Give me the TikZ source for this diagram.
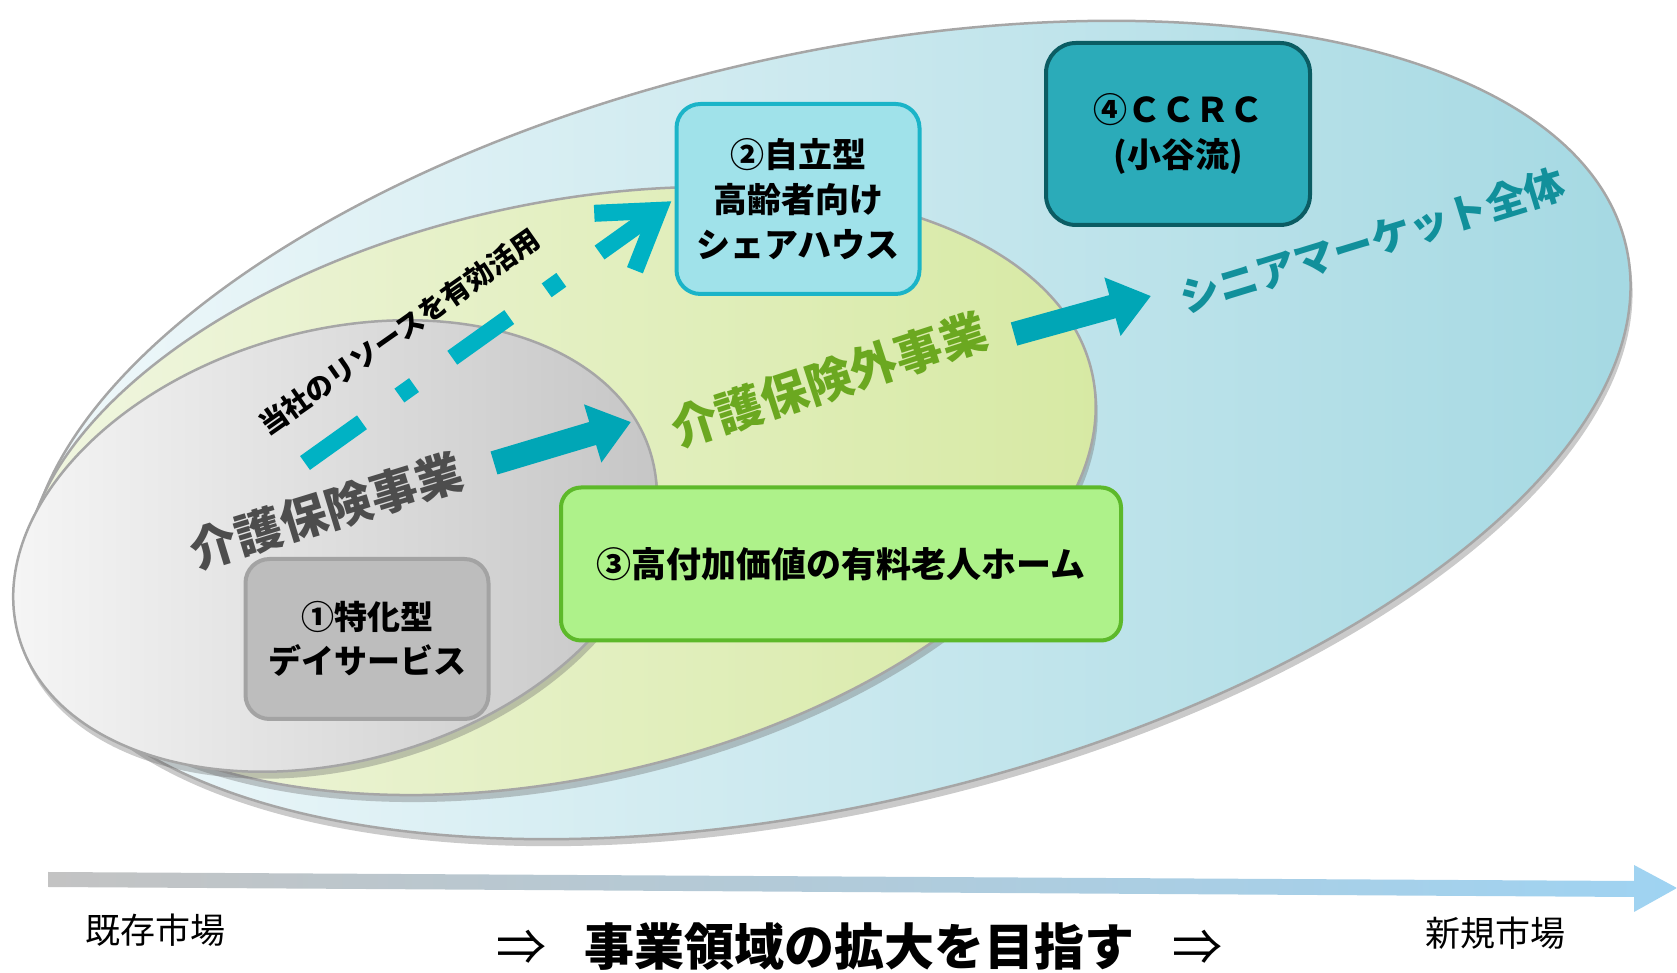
\documentclass[tikz,border=0pt]{standalone}
\usepackage{fontspec}
\setmainfont{Noto Sans CJK JP}
\usetikzlibrary{positioning,arrows.meta,shadows}

\definecolor{outerLeft}{HTML}{F2F9FB}
\definecolor{outerRight}{HTML}{A3D8E2}
\definecolor{freeLeft}{HTML}{F1F6E2}
\definecolor{freeRight}{HTML}{D6E9A2}
\definecolor{careLeft}{HTML}{F7F7F7}
\definecolor{careRight}{HTML}{C4C4C4}
\definecolor{shareFill}{HTML}{A0E2EA}
\definecolor{shareLine}{HTML}{1BB4C8}
\definecolor{ccrcFill}{HTML}{2BABB9}
\definecolor{ccrcLine}{HTML}{0B5C63}
\definecolor{homeFill}{HTML}{AEF28A}
\definecolor{homeLine}{HTML}{5DB92A}
\definecolor{dayFill}{HTML}{BDBDBD}
\definecolor{dayLine}{HTML}{A3A3A3}
\definecolor{careText}{HTML}{4D4D4D}
\definecolor{freeText}{HTML}{6BA820}
\definecolor{seniorText}{HTML}{11909B}
\definecolor{arrowTeal}{HTML}{00A6B6}
\definecolor{dashTeal}{HTML}{00B2C4}
\definecolor{axisLeft}{HTML}{C3C3C3}
\definecolor{axisRight}{HTML}{9FD3F2}

\tikzset{
    zoneLine/.style={draw=black!35, line width=2.5pt},
    zoneShadow/.style={drop shadow={shadow xshift=2pt, shadow yshift=-7pt, opacity=0.35, fill=black!60}},
    stageBox/.style={draw, line width=4pt, rounded corners=24pt, align=center, inner sep=0pt,
        font=\fontsize{34}{45}\selectfont\bfseries},
    zoneLabel/.style={inner sep=0pt, font=\fontsize{47}{47}\selectfont\bfseries},
    bigArrow/.style={draw=arrowTeal, line width=24pt, -{Triangle[length=40pt, width=58pt]}},
}

\begin{document}
\begin{tikzpicture}[x=1pt,y=1pt]
    \useasboundingbox (0,0) rectangle (1677,973);
    % market zones
    \draw[zoneLine, zoneShadow, left color=outerLeft, right color=outerRight]
        (829,543) ellipse [x radius=818, y radius=375, rotate=13];
    \draw[zoneLine, zoneShadow, left color=freeLeft, right color=freeRight]
        (560,482) ellipse [x radius=545, y radius=287, rotate=12.5];
    \draw[zoneLine, zoneShadow, left color=careLeft, right color=careRight]
        (335,427) ellipse [x radius=329, y radius=215, rotate=16];

    % business stages
    \node[stageBox, fill=dayFill, draw=dayLine, minimum width=243pt, minimum height=160pt,
        font=\fontsize{33}{44}\selectfont\bfseries] (day) at (367,334) {①特化型\\デイサービス};
    \node[stageBox, fill=shareFill, draw=shareLine, minimum width=243pt, minimum height=190pt] (share)
        at (798,774) {②自立型\\高齢者向け\\シェアハウス};
    \node[stageBox, fill=homeFill, draw=homeLine, minimum width=560pt, minimum height=153pt,
        rounded corners=20pt, font=\fontsize{35}{45}\selectfont\bfseries] (home) at (841,409) {③高付加価値の有料老人ホーム};
    \node[stageBox, fill=ccrcFill, draw=ccrcLine, minimum width=264pt, minimum height=182pt,
        rounded corners=30pt] (ccrc) at (1178,839) {④ＣＣＲＣ\\(小谷流)};

    % zone labels
    \node[zoneLabel, text=careText, rotate=17] (careLabel) at (326,462) {介護保険事業};
    \node[zoneLabel, text=freeText, rotate=18] (freeLabel) at (829,593) {介護保険外事業};
    \node[zoneLabel, text=seniorText, rotate=17, font=\fontsize{40}{40}\selectfont\bfseries] (seniorLabel)
        at (1372,732) {シニアマーケット全体};
    \node[inner sep=0pt, rotate=35, font=\fontsize{28}{28}\selectfont\bfseries] (resLabel)
        at (399,641) {当社のリソースを有効活用};

    % growth arrows
    \coordinate (careOut) at (494,510);
    \coordinate (careIn) at (631,551);
    \draw[bigArrow] (careOut) -- (careIn);
    \coordinate (freeOut) at (1014,639);
    \coordinate (freeIn) at (1151,677);
    \draw[bigArrow] (freeOut) -- (freeIn);
    \coordinate (resStart) at (305,510);
    \draw[draw=dashTeal, line width=17pt, shorten >=4pt,
        dash pattern=on 70pt off 46pt on 18pt off 47pt on 70pt off 46pt on 18pt off 47pt on 300pt off 1pt,
        -{Straight Barb[length=54pt, width=70pt]}] (resStart) -- (share.west);

    % market axis
    \shade[left color=axisLeft, right color=axisRight]
        (48,101) -- (1634,92) -- (1634,108) -- (1677,85) -- (1634,61) -- (1634,76) -- (48,86) -- cycle;
    \node[font=\fontsize{35}{35}\selectfont] (existing) at (155,43) {既存市場};
    \node[font=\fontsize{35}{35}\selectfont] (newMarket) at (1495,40) {新規市場};
    \node[font=\fontsize{50}{50}\selectfont\bfseries] (goal) at (859,26)
        {{\mdseries ⇒}\hspace{38pt}事業領域の拡大を目指す\hspace{38pt}{\mdseries ⇒}};
\end{tikzpicture}
\end{document}
